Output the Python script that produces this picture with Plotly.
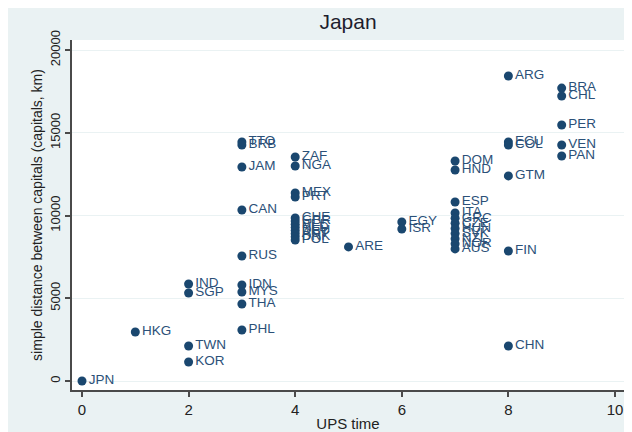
import plotly.graph_objects as go

countries = ["JPN", "HKG", "IND", "SGP", "TWN", "KOR",
             "TTO", "BRB", "JAM", "CAN", "RUS", "IDN", "MYS", "THA", "PHL",
             "ZAF", "NGA", "MEX", "PRT", "CHE", "GBR", "BEL", "NLD", "DEU", "AUT", "DNK", "POL",
             "ARE", "EGY", "ISR",
             "DOM", "HND", "ESP", "ITA", "GRC", "CZE", "HUN", "SVK", "NZL", "NOR", "AUS",
             "ARG", "ECU", "COL", "GTM", "FIN", "CHN",
             "BRA", "CHL", "PER", "VEN", "PAN"]
ups_time = [0, 1, 2, 2, 2, 2,
            3, 3, 3, 3, 3, 3, 3, 3, 3,
            4, 4, 4, 4, 4, 4, 4, 4, 4, 4, 4, 4,
            5, 6, 6,
            7, 7, 7, 7, 7, 7, 7, 7, 7, 7, 7,
            8, 8, 8, 8, 8, 8,
            9, 9, 9, 9, 9]
distance = [0, 2960, 5860, 5320, 2115, 1150,
            14440, 14260, 12930, 10330, 7550, 5800, 5380, 4650, 3080,
            13535, 12990, 11360, 11120, 9850, 9660, 9470, 9280, 9090, 8900, 8710, 8520,
            8100, 9610, 9185,
            13290, 12750, 10815, 10150, 9840, 9530, 9220, 8910, 8600, 8290, 7980,
            18430, 14440, 14260, 12390, 7855, 2115,
            17700, 17220, 15470, 14260, 13595]

x_ticks = [0, 2, 4, 6, 8, 10]
y_ticks = [0, 5000, 10000, 15000, 20000]
y_tick_labels = ["0", "5000", "10000", "15000", "20000"]

navy = "#1A476F"
bg = "#EAF2F3"
axis_col = "#4A4A4A"
font_fam = "Liberation Sans, Arial, sans-serif"

fig = go.Figure()
fig.add_trace(go.Scatter(
    x=ups_time, y=distance, text=countries,
    mode="markers+text", textposition="middle right",
    marker=dict(color=navy, size=9),
    textfont=dict(color="#2B5078", size=13.5, family=font_fam),
    hoverinfo="skip", cliponaxis=False,
))

fig.update_layout(
    width=632, height=432,
    margin=dict(l=64, r=16, t=32, b=50, autoexpand=False),
    paper_bgcolor=bg, plot_bgcolor="white",
    showlegend=False,
    font=dict(family=font_fam, color="#222222"),
    title=dict(text="Japan", x=(340 / 632), xanchor="center", y=1 - 14 / 432, yanchor="middle",
               font=dict(size=21, color="#1E1E2E", family=font_fam)),
    xaxis=dict(range=[-0.1876, 10.169], tickvals=x_ticks, showgrid=False, zeroline=False,
               automargin=False,
               showline=True, linecolor=axis_col, linewidth=1.5,
               ticks="outside", ticklen=5, tickcolor=axis_col, tickwidth=1.5,
               tickfont=dict(size=15, color="#222222"),
               title=dict(text="UPS time", font=dict(size=15, color="#222222"), standoff=2)),
    yaxis=dict(range=[-544, 20604], tickvals=y_ticks, ticktext=y_tick_labels,
               showgrid=True, gridcolor=bg, gridwidth=1, automargin=False,
               zeroline=False, showline=True, linecolor=axis_col, linewidth=1.5,
               ticks="outside", ticklen=5, tickcolor=axis_col, tickwidth=1.5,
               tickangle=-90, tickfont=dict(size=13, color="#222222"),
               title=dict(text="simple distance between capitals (capitals, km)",
                          font=dict(size=14, color="#222222"), standoff=2)),
)

fig.write_html("out.html")
